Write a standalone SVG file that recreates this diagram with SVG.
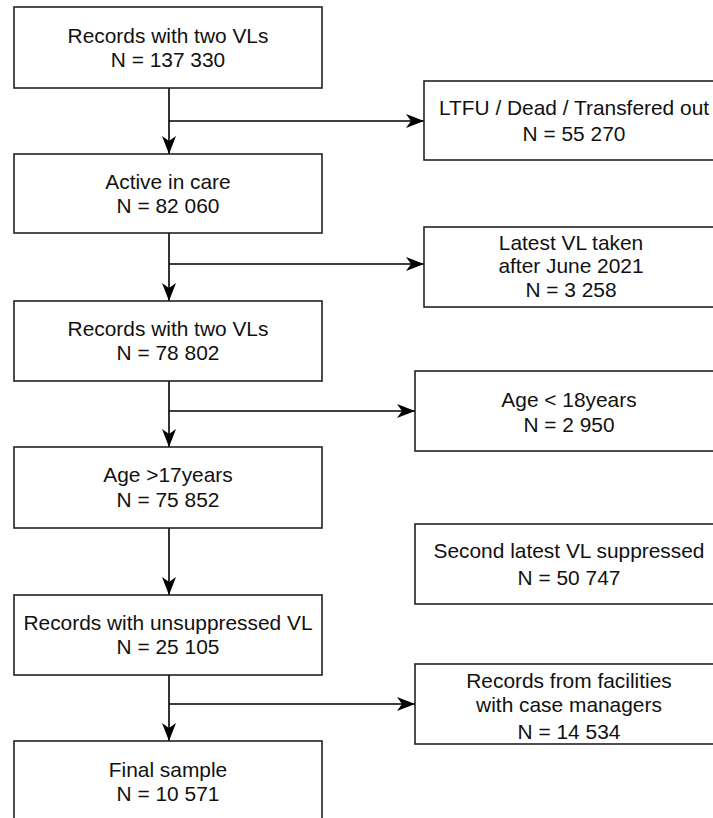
<svg xmlns="http://www.w3.org/2000/svg" width="713" height="818" viewBox="0 0 713 818">
<defs>
<style>
.box{fill:#fff;stroke:#222;stroke-width:1.6}
.t{font-family:"Liberation Sans",Arial,sans-serif;font-size:20.9px;fill:#111;text-anchor:middle}
.c{fill:none;stroke:#000;stroke-width:1.6}
</style>
<marker id="ah" viewBox="0 0 18 14" refX="18" refY="7" markerWidth="18" markerHeight="14" markerUnits="userSpaceOnUse" orient="auto">
<path d="M0,0 L18,7 L0,14 L5,7 z" fill="#000"/>
</marker>
</defs>
<rect width="713" height="818" fill="#fff"/>
<g id="connectors">
<line class="c" x1="169" y1="88" x2="169" y2="154" marker-end="url(#ah)"/>
<line class="c" x1="169" y1="121" x2="424" y2="121" marker-end="url(#ah)"/>
<line class="c" x1="169" y1="233" x2="169" y2="301" marker-end="url(#ah)"/>
<line class="c" x1="169" y1="264" x2="424" y2="264" marker-end="url(#ah)"/>
<line class="c" x1="169" y1="381" x2="169" y2="447" marker-end="url(#ah)"/>
<line class="c" x1="169" y1="411" x2="415" y2="411" marker-end="url(#ah)"/>
<line class="c" x1="169" y1="528" x2="169" y2="595" marker-end="url(#ah)"/>
<line class="c" x1="169" y1="675" x2="169" y2="741" marker-end="url(#ah)"/>
<line class="c" x1="169" y1="704" x2="415" y2="704" marker-end="url(#ah)"/>
</g>
<g id="n1"><rect class="box" x="14" y="7" width="308" height="81"/><text class="t" x="168" y="43">Records with two VLs</text><text class="t" x="168" y="67">N = 137 330</text></g>
<g id="n2"><rect class="box" x="14" y="154" width="308" height="79"/><text class="t" x="168" y="189">Active in care</text><text class="t" x="168" y="213">N = 82 060</text></g>
<g id="n3"><rect class="box" x="14" y="301" width="308" height="80"/><text class="t" x="168" y="336">Records with two VLs</text><text class="t" x="168" y="360">N = 78 802</text></g>
<g id="n4"><rect class="box" x="14" y="447" width="308" height="81"/><text class="t" x="168" y="482">Age &gt;17years</text><text class="t" x="168" y="507">N = 75 852</text></g>
<g id="n5"><rect class="box" x="14" y="595" width="308" height="80"/><text class="t" x="168" y="630">Records with unsuppressed VL</text><text class="t" x="168" y="654">N = 25 105</text></g>
<g id="n6"><rect class="box" x="14" y="741" width="308" height="90"/><text class="t" x="168" y="777">Final sample</text><text class="t" x="168" y="801">N = 10 571</text></g>
<g id="r1"><rect class="box" x="424" y="81" width="300" height="79"/><text class="t" x="574" y="115">LTFU / Dead / Transfered out</text><text class="t" x="574" y="141">N = 55 270</text></g>
<g id="r2"><rect class="box" x="424" y="227" width="300" height="80"/><text class="t" x="571" y="250">Latest VL taken</text><text class="t" x="571" y="273">after June 2021</text><text class="t" x="571" y="297">N = 3 258</text></g>
<g id="r3"><rect class="box" x="415" y="371" width="308" height="80"/><text class="t" x="569" y="407">Age &lt; 18years</text><text class="t" x="569" y="432">N = 2 950</text></g>
<g id="r4"><rect class="box" x="415" y="524" width="308" height="80"/><text class="t" x="569" y="558">Second latest VL suppressed</text><text class="t" x="569" y="585">N = 50 747</text></g>
<g id="r5"><rect class="box" x="415" y="664" width="308" height="80"/><text class="t" x="569" y="688">Records from facilities</text><text class="t" x="569" y="712">with case managers</text><text class="t" x="569" y="739">N = 14 534</text></g>
</svg>
